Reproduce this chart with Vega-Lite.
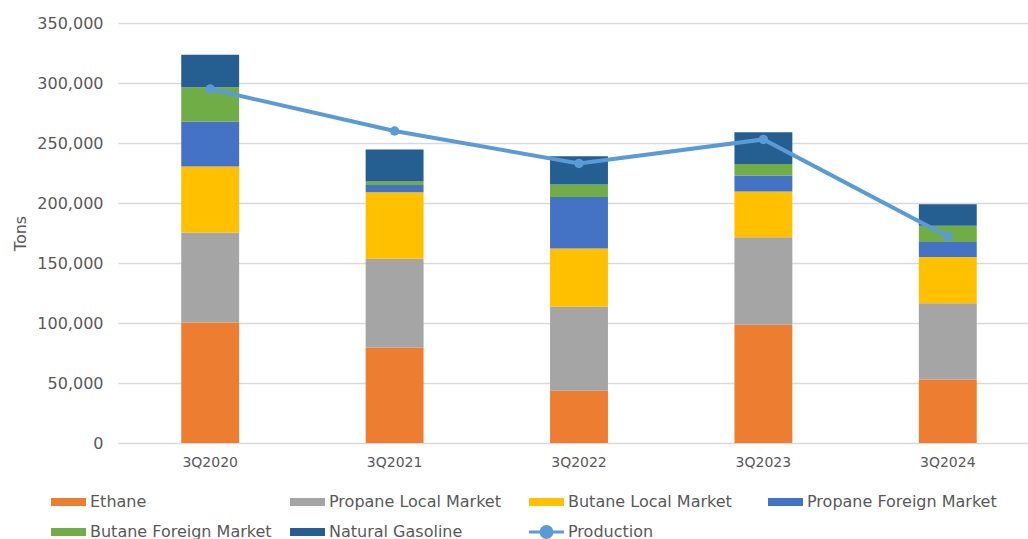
{
  "$schema": "https://vega.github.io/schema/vega-lite/v6.json",
  "autosize": {"type": "none"},
  "width": 922,
  "height": 420,
  "padding": {"left": 118, "top": 23, "right": 0, "bottom": 96},
  "background": "white",
  "config": {
    "font": "DejaVu Sans",
    "view": {"stroke": null}
  },
  "datasets": {
    "bars": [
      {"quarter": "3Q2020", "series": "Ethane", "tons": 100500},
      {"quarter": "3Q2020", "series": "Propane Local Market", "tons": 75000},
      {"quarter": "3Q2020", "series": "Butane Local Market", "tons": 55000},
      {"quarter": "3Q2020", "series": "Propane Foreign Market", "tons": 37500},
      {"quarter": "3Q2020", "series": "Butane Foreign Market", "tons": 28500},
      {"quarter": "3Q2020", "series": "Natural Gasoline", "tons": 27000},
      {"quarter": "3Q2021", "series": "Ethane", "tons": 79500},
      {"quarter": "3Q2021", "series": "Propane Local Market", "tons": 74000},
      {"quarter": "3Q2021", "series": "Butane Local Market", "tons": 55500},
      {"quarter": "3Q2021", "series": "Propane Foreign Market", "tons": 6000},
      {"quarter": "3Q2021", "series": "Butane Foreign Market", "tons": 3000},
      {"quarter": "3Q2021", "series": "Natural Gasoline", "tons": 26500},
      {"quarter": "3Q2022", "series": "Ethane", "tons": 43500},
      {"quarter": "3Q2022", "series": "Propane Local Market", "tons": 70000},
      {"quarter": "3Q2022", "series": "Butane Local Market", "tons": 48500},
      {"quarter": "3Q2022", "series": "Propane Foreign Market", "tons": 43000},
      {"quarter": "3Q2022", "series": "Butane Foreign Market", "tons": 10500},
      {"quarter": "3Q2022", "series": "Natural Gasoline", "tons": 23500},
      {"quarter": "3Q2023", "series": "Ethane", "tons": 98500},
      {"quarter": "3Q2023", "series": "Propane Local Market", "tons": 73000},
      {"quarter": "3Q2023", "series": "Butane Local Market", "tons": 38000},
      {"quarter": "3Q2023", "series": "Propane Foreign Market", "tons": 13500},
      {"quarter": "3Q2023", "series": "Butane Foreign Market", "tons": 9500},
      {"quarter": "3Q2023", "series": "Natural Gasoline", "tons": 26500},
      {"quarter": "3Q2024", "series": "Ethane", "tons": 53000},
      {"quarter": "3Q2024", "series": "Propane Local Market", "tons": 63500},
      {"quarter": "3Q2024", "series": "Butane Local Market", "tons": 38500},
      {"quarter": "3Q2024", "series": "Propane Foreign Market", "tons": 12500},
      {"quarter": "3Q2024", "series": "Butane Foreign Market", "tons": 13500},
      {"quarter": "3Q2024", "series": "Natural Gasoline", "tons": 18000}
    ],
    "production": [
      {"quarter": "3Q2020", "production": 295000},
      {"quarter": "3Q2021", "production": 260000},
      {"quarter": "3Q2022", "production": 233000},
      {"quarter": "3Q2023", "production": 253000},
      {"quarter": "3Q2024", "production": 172000}
    ]
  },
  "encoding": {
    "x": {
      "field": "quarter",
      "type": "nominal",
      "sort": null,
      "scale": {"paddingInner": 0.686, "paddingOuter": 0.343},
      "axis": {
        "title": null,
        "labelAngle": 0,
        "labelFontSize": 14,
        "labelColor": "#595959",
        "labelPadding": 12,
        "ticks": false,
        "domain": false,
        "grid": false
      }
    }
  },
  "layer": [
    {
      "data": {"name": "bars"},
      "transform": [
        {"calculate": "indexof(['Ethane','Propane Local Market','Butane Local Market','Propane Foreign Market','Butane Foreign Market','Natural Gasoline'], datum.series)", "as": "stackIndex"}
      ],
      "mark": {"type": "bar"},
      "encoding": {
        "y": {
          "field": "tons",
          "type": "quantitative",
          "stack": "zero",
          "scale": {"domain": [0, 350000], "nice": false},
          "axis": {
            "title": "Tons",
            "titleFontSize": 16,
            "titleFontWeight": "normal",
            "titleColor": "#595959",
            "titlePadding": 8,
            "values": [0, 50000, 100000, 150000, 200000, 250000, 300000, 350000],
            "labelExpr": "format(datum.value, ',.0f')",
            "labelFontSize": 16,
            "labelColor": "#595959",
            "labelPadding": 15,
            "ticks": false,
            "domain": false,
            "grid": true,
            "gridColor": "#d9d9d9",
            "gridWidth": 1.5
          }
        },
        "order": {"field": "stackIndex", "type": "quantitative", "sort": "ascending"},
        "color": {
          "field": "series",
          "type": "nominal",
          "scale": {
            "domain": ["Ethane", "Propane Local Market", "Butane Local Market", "Propane Foreign Market", "Butane Foreign Market", "Natural Gasoline", "Production"],
            "range": ["#ED7D31", "#A5A5A5", "#FFC000", "#4472C4", "#70AD47", "#255E91", "#5B9BD5"]
          },
          "legend": {
            "title": null,
            "orient": "none",
            "legendX": -49,
            "legendY": 469,
            "direction": "horizontal",
            "columns": 4,
            "gridAlign": "all",
            "columnPadding": 4,
            "rowPadding": 8,
            "symbolSize": 1296,
            "labelFontSize": 16,
            "labelColor": "#595959",
            "labelOffset": 5,
            "labelLimit": 300,
            "encode": {
              "symbols": {
                "update": {
                  "shape": {"signal": "datum.value === 'Production' ? 'M-1.444,0H0.5M-0.172,0A0.3,0.3 0 1,1 -0.772,0A0.3,0.3 0 1,1 -0.172,0Z' : 'M-1.444,-0.222H0.5V0.222H-1.444Z'"},
                  "strokeWidth": {"signal": "datum.value === 'Production' ? 3 : 0"},
                  "opacity": {"value": 1},
                  "fillOpacity": {"value": 1}
                }
              }
            }
          }
        }
      }
    },
    {
      "data": {"name": "production"},
      "mark": {"type": "line", "color": "#5B9BD5", "strokeWidth": 4, "point": {"size": 90, "filled": true, "color": "#5B9BD5", "opacity": 1}},
      "encoding": {
        "y": {"field": "production", "type": "quantitative"},
        "color": {"datum": "Production"}
      }
    }
  ]
}
